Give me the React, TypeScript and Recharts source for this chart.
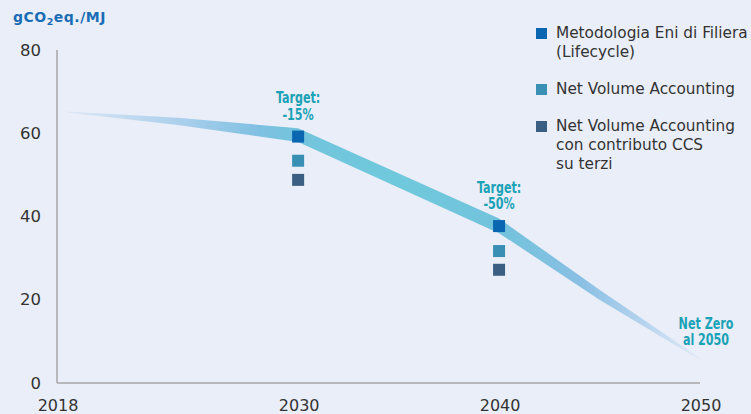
import React from "react";
import { ComposedChart, Area, Scatter, XAxis, YAxis } from "recharts";

// ---- data ----
const xTicks = [2018, 2030, 2040, 2050];
const yTicks = [0, 20, 40, 60, 80];

// trajectory band (low/high edges of the ribbon)
const bandYears = [2018.5, 2024, 2030, 2040, 2045, 2050];
const bandLow = [65.0, 62.0, 57.9, 36.0, 20.0, 5.5];
const bandHigh = [65.2, 63.7, 61.2, 39.5, 22.4, 6.0];

// target markers
const targetYears = [2030, 2040];
const lifecycleValues = [59.2, 37.7];
const netVolumeValues = [53.4, 31.7];
const netVolumeCcsValues = [48.8, 27.2];

const noteYears = [2030, 2040, 2050];
const noteValues = [59.2, 37.7, 5.5];
const noteLines = [["Target:", "-15%"], ["Target:", "-50%"], ["Net Zero", "al 2050"]];

const legendItems = [
  { color: "#0A66B0", lines: ["Metodologia Eni di Filiera", "(Lifecycle)"] },
  { color: "#3A90B4", lines: ["Net Volume Accounting"] },
  { color: "#3B5F82", lines: ["Net Volume Accounting", "con contributo CCS", "su terzi"] },
];

const bandData = bandYears.map((x, i) => ({ x, band: [bandLow[i], bandHigh[i]] }));
const mk = (vals: number[]) => targetYears.map((x, i) => ({ x, y: vals[i] }));
const noteData = noteYears.map((x, i) => ({ x, y: noteValues[i], lines: noteLines[i], last: i === 2 }));

const TICK_FONT = "'DejaVu Sans', sans-serif";
const NOTE_FONT = "'DejaVu Sans Condensed', 'DejaVu Sans', sans-serif";

const Square = (color: string) => (props: any) => {
  const { cx, cy } = props;
  if (cx == null || cy == null) return null;
  return <rect x={cx - 6} y={cy - 6} width={12} height={12} fill={color} />;
};

const Note = (props: any) => {
  const { cx, cy, payload } = props;
  if (cx == null || cy == null) return null;
  const isLast = payload.last;
  const x = isLast ? cx + 6 : cx;
  const y0 = isLast ? cy - 37 : cy - 39;
  return (
    <g transform={`translate(${x},${y0}) scale(0.8,1)`}>
      {payload.lines.map((t: string, i: number) => (
        <text
          key={i}
          x={0}
          y={i * 16.5}
          textAnchor="middle"
          dominantBaseline="central"
          fontFamily={NOTE_FONT}
          fontWeight={700}
          fontSize={15.5}
          fill="#1BA2B6"
        >
          {t}
        </text>
      ))}
    </g>
  );
};

const XTick = (props: any) => {
  const { x, y, payload } = props;
  return (
    <text x={x + 1} y={y + 20} textAnchor="middle" dominantBaseline="central" fontFamily={TICK_FONT} fontSize={16} fill="#333">
      {payload.value}
    </text>
  );
};

const YTick = (props: any) => {
  const { x, y, payload } = props;
  return (
    <text x={x - 14} y={y} textAnchor="end" dominantBaseline="central" fontFamily={TICK_FONT} fontSize={16.5} fill="#333">
      {payload.value}
    </text>
  );
};

export default function App() {
  return (
    <div style={{ position: "absolute", left: 0, top: 0, width: 751, height: 414, background: "#E9EEF8", overflow: "hidden" }}>
      <div
        style={{
          position: "absolute",
          left: 13,
          top: 9,
          fontFamily: TICK_FONT,
          fontWeight: 700,
          fontSize: 14,
          color: "#1A6DB5",
          whiteSpace: "nowrap",
          letterSpacing: 0.5,
        }}
      >
        gCO<sub style={{ fontSize: 9.5, verticalAlign: -3 }}>2</sub>eq./MJ
      </div>
      <ComposedChart
        width={751}
        height={414}
        data={bandData}
        margin={{ top: 50, right: 51, bottom: 0, left: 0 }}
        style={{ position: "absolute", left: 0, top: 0, overflow: "visible" }}
      >
        <defs>
          <linearGradient id="bandGrad" x1="0" y1="0" x2="1" y2="0">
            <stop offset="0" stopColor="#dde7f5" />
            <stop offset="0.175" stopColor="#acd0ec" />
            <stop offset="0.3" stopColor="#80c0e2" />
            <stop offset="0.365" stopColor="#72c4dc" />
            <stop offset="0.52" stopColor="#6fc9dc" />
            <stop offset="0.68" stopColor="#72c3dc" />
            <stop offset="0.81" stopColor="#89bfe3" />
            <stop offset="0.905" stopColor="#b3d2ee" />
            <stop offset="1" stopColor="#e3ebf7" />
          </linearGradient>
        </defs>
        <XAxis
          type="number"
          dataKey="x"
          domain={[2018, 2050]}
          ticks={xTicks}
          height={31}
          tickLine={false}
          tickSize={0}
          axisLine={{ stroke: "#b8b8bc", strokeWidth: 2 }}
          tick={<XTick />}
        />
        <YAxis
          type="number"
          domain={[0, 80]}
          ticks={yTicks}
          width={57}
          tickLine={false}
          tickSize={0}
          axisLine={{ stroke: "#b8b8bc", strokeWidth: 2 }}
          tick={<YTick />}
        />
        <Area
          type="linear"
          dataKey="band"
          stroke="none"
          fill="url(#bandGrad)"
          fillOpacity={1}
          isAnimationActive={false}
          dot={false}
          activeDot={false}
        />
        <Scatter data={mk(lifecycleValues)} dataKey="y" shape={Square("#0A66B0")} isAnimationActive={false} />
        <Scatter data={mk(netVolumeValues)} dataKey="y" shape={Square("#3A90B4")} isAnimationActive={false} />
        <Scatter data={mk(netVolumeCcsValues)} dataKey="y" shape={Square("#3B5F82")} isAnimationActive={false} />
        <Scatter data={noteData} dataKey="y" shape={<Note />} isAnimationActive={false} />
      </ComposedChart>
      <div style={{ position: "absolute", left: 536, top: 24, fontFamily: TICK_FONT, fontSize: 15.3, color: "#333" }}>
        {legendItems.map((it, i) => (
          <div key={i} style={{ position: "relative", paddingLeft: 20, marginBottom: 18, lineHeight: "19px" }}>
            <span style={{ position: "absolute", left: 0, top: 4, width: 11, height: 11, background: it.color }} />
            {it.lines.map((l, j) => (
              <div key={j} style={{ whiteSpace: "nowrap" }}>{l}</div>
            ))}
          </div>
        ))}
      </div>
    </div>
  );
}
